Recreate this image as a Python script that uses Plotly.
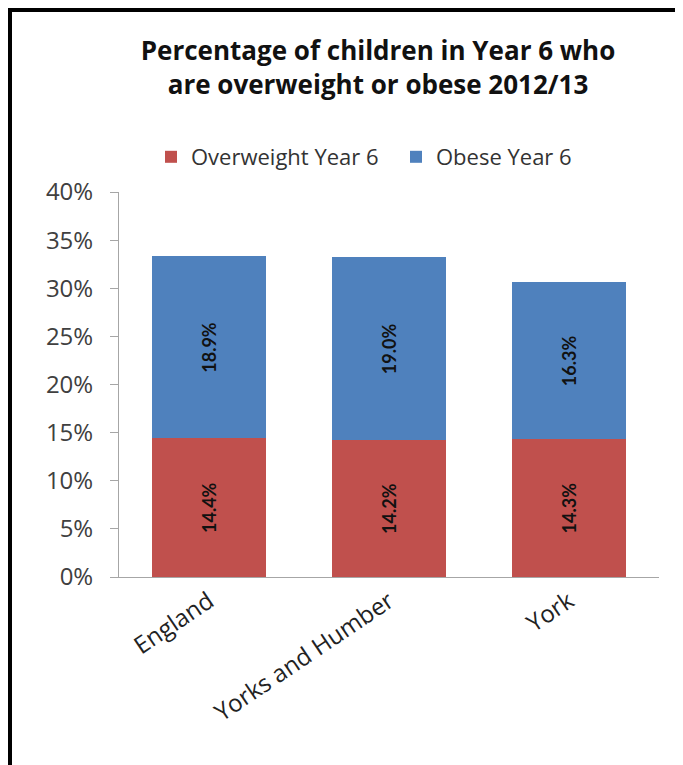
import plotly.graph_objects as go

categories = ["England", "Yorks and Humber", "York"]
overweight = [14.4, 14.2, 14.3]
obese = [18.9, 19.0, 16.3]
series_names = ["Overweight Year 6", "Obese Year 6"]
tick_vals = [0, 5, 10, 15, 20, 25, 30, 35, 40]
tick_text = [f"{v}%" for v in tick_vals]

FONT = "'Open Sans', Lato, sans-serif"
LBL = "Lato, 'Open Sans', sans-serif"

fig = go.Figure()
for vals, name, color in [(overweight, series_names[0], "#C0504D"),
                          (obese, series_names[1], "#4F81BD")]:
    fig.add_trace(go.Bar(
        x=categories, y=vals, name=name,
        marker=dict(color=color, line=dict(width=0)),
        text=[f"{v:.1f}%" for v in vals], textposition="inside",
        textangle=-90, insidetextanchor="middle",
        textfont=dict(family=LBL, size=18, color="#111111", weight="bold"),
    ))

# page offset of the figure inside the browser window
OFF = 8
W, H = 683 - OFF, 765 - OFF
L, T = 119 - OFF, 192 - OFF
R = W - (659 - OFF)
B = H - (577 - OFF)
pw, ph = W - L - R, H - T - B

def px(x):
    return (x - OFF - L) / pw

def py(y):
    return (H - B - (y - OFF)) / ph

fig.update_layout(
    width=W, height=H,
    barmode="stack", bargap=0.37,
    margin=dict(l=L, r=R, t=T, b=B, autoexpand=False),
    paper_bgcolor="white", plot_bgcolor="white",
    font=dict(family=FONT, color="#404040"),
    title=dict(
        text="Percentage of children in Year 6 who<br>are overweight or obese 2012/13",
        x=px(378), xref="paper", xanchor="center",
        y=1 - (60 - OFF) / H, yanchor="middle",
        font=dict(family=FONT, size=26, color="#111111", weight="bold"),
    ),
    showlegend=True,
    legend=dict(
        orientation="h", x=px(151), xanchor="left", y=py(157), yanchor="middle",
        font=dict(family=FONT, size=22, color="#333333"),
        itemwidth=30, traceorder="normal",
        entrywidth=200, entrywidthmode="pixels",
    ),
    xaxis=dict(
        tickangle=-34, tickfont=dict(family=FONT, size=24, color="#222222"),
        showline=True, linecolor="#A6A6A6", linewidth=1,
        ticks="", showgrid=False,
    ),
    yaxis=dict(
        range=[0, 40], tickvals=tick_vals, ticktext=tick_text,
        tickfont=dict(family=FONT, size=24, color="#404040"),
        showline=True, linecolor="#A6A6A6", linewidth=1,
        ticks="outside", ticklen=8, tickcolor="#A6A6A6",
        ticklabelstandoff=12,
        showgrid=False, zeroline=False,
    ),
    shapes=[
        dict(type="line", xref="paper", yref="paper",
             x0=px(10), x1=px(10), y0=py(8), y1=py(765),
             line=dict(color="black", width=4)),
        dict(type="line", xref="paper", yref="paper",
             x0=px(8), x1=px(683), y0=py(10), y1=py(10),
             line=dict(color="black", width=4)),
    ],
)

fig.write_html("out.html")
